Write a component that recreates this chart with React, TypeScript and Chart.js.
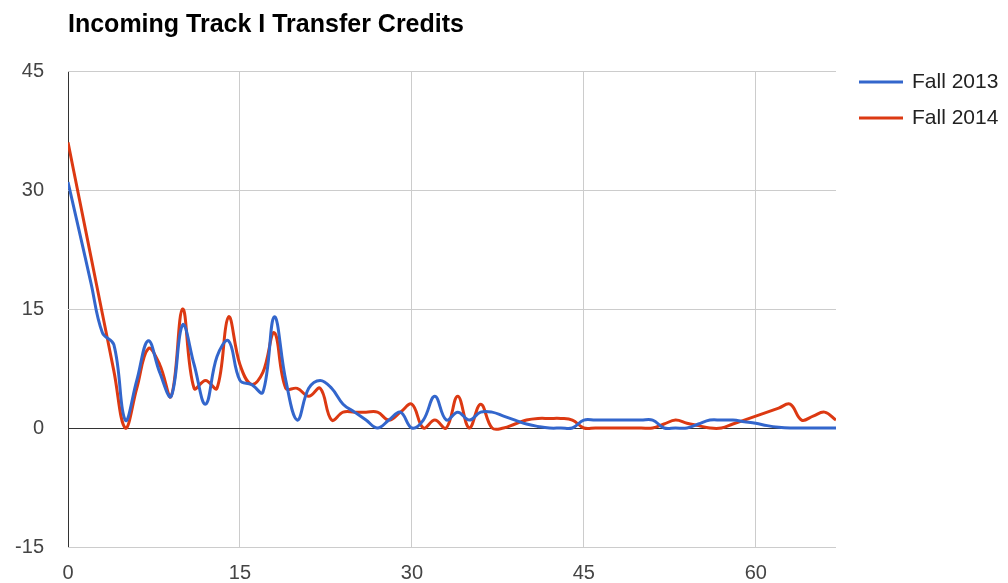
import React, { useEffect, useRef } from "react";
import { Chart, registerables } from "chart.js";

Chart.register(...registerables);

const chartTitle = "Incoming Track I Transfer Credits";
const seriesNames = ["Fall 2013", "Fall 2014"];
const seriesColors = ["#3366cc", "#dc3912"];

const credits = [
  0, 1, 2, 3, 4, 5, 6, 7, 8, 9, 10, 11, 12, 13, 14, 15, 16, 17, 18, 19, 20, 21, 22,
  23, 24, 25, 26, 27, 28, 29, 30, 31, 32, 33, 34, 35, 36, 37, 38, 39, 40, 41, 42, 43,
  44, 45, 46, 47, 48, 49, 50, 51, 52, 53, 54, 55, 56, 57, 58, 59, 60, 61, 62, 63, 64,
  65, 66, 67,
];

const fall2013 = [
  31, 24.7, 18.3, 12, 10.5, 1, 6, 11, 7, 4, 13, 8, 3, 9, 11, 6, 5.5, 4.5, 14, 6, 1, 5, 6,
  5, 3, 2, 1, 0, 1, 2, 0, 1, 4, 1, 2, 1, 2, 2, 1.5, 1, 0.5, 0.2, 0, 0,
  0, 1, 1, 1, 1, 1, 1, 1, 0, 0, 0, 0.5, 1, 1, 1, 0.8, 0.6, 0.3, 0.1, 0, 0,
  0, 0, 0,
];

const fall2014 = [
  36, 28.8, 21.6, 14.4, 7.2, 0, 5, 10, 8, 4, 15, 5, 6, 5, 14, 8, 5.5, 7, 12, 5, 5, 4, 5,
  1, 2, 2, 2, 2, 1, 2, 3, 0, 1, 0, 4, 0, 3, 0, 0, 0.5, 1, 1.2, 1.2, 1.2,
  1, 0, 0, 0, 0, 0, 0, 0, 0.5, 1, 0.6, 0.3, 0, 0, 0.5, 1, 1.5, 2, 2.5, 3, 1,
  1.5, 2, 1,
];

const xTickStep = 15;
const yTicks = [-15, 0, 15, 30, 45];

const FONT = "'Liberation Sans', Arial, sans-serif";

const decorPlugin = {
  id: "decor",
  afterDraw(chart: any) {
    const ctx = chart.ctx;
    ctx.save();
    ctx.fillStyle = "#000000";
    ctx.font = `bold 25px ${FONT}`;
    ctx.textBaseline = "alphabetic";
    ctx.textAlign = "left";
    ctx.fillText(chartTitle, 68, 32);

    const rows = [82, 118];
    seriesNames.forEach((name, i) => {
      const y = rows[i];
      ctx.strokeStyle = seriesColors[i];
      ctx.lineWidth = 3;
      ctx.beginPath();
      ctx.moveTo(859, y);
      ctx.lineTo(903, y);
      ctx.stroke();
      ctx.fillStyle = "#222222";
      ctx.font = `21px ${FONT}`;
      ctx.fillText(name, 912, y + 6);
    });
    ctx.restore();
  },
};

export default function App() {
  const ref = useRef<HTMLCanvasElement | null>(null);

  useEffect(() => {
    if (!ref.current) return;
    const mk = (vals: number[]) => credits.map((x, i) => ({ x, y: vals[i] }));
    const chart = new Chart(ref.current, {
      type: "line",
      data: {
        datasets: [
          {
            label: seriesNames[0],
            data: mk(fall2013),
            borderColor: seriesColors[0],
            backgroundColor: seriesColors[0],
            borderWidth: 3,
            pointRadius: 0,
            tension: 0.4,
            fill: false,
          },
          {
            label: seriesNames[1],
            data: mk(fall2014),
            borderColor: seriesColors[1],
            backgroundColor: seriesColors[1],
            borderWidth: 3,
            pointRadius: 0,
            tension: 0.4,
            fill: false,
          },
        ],
      },
      options: {
        animation: false,
        responsive: true,
        maintainAspectRatio: false,
        layout: { padding: { top: 71, right: 172, left: 0, bottom: 0 } },
        plugins: {
          legend: { display: false },
          title: { display: false },
          tooltip: { enabled: false },
        },
        scales: {
          x: {
            type: "linear",
            min: credits[0],
            max: credits[credits.length - 1],
            afterFit: (s: any) => {
              s.height = 36;
            },
            ticks: {
              stepSize: xTickStep,
              includeBounds: false,
              padding: 14,
              color: "#444444",
              font: { family: FONT, size: 20 },
            },
            grid: {
              drawTicks: false,
              color: (c: any) => (c.tick && c.tick.value === 0 ? "#333333" : "#cccccc"),
            },
            border: { display: false },
          },
          y: {
            min: yTicks[0],
            max: yTicks[yTicks.length - 1],
            afterFit: (s: any) => {
              s.width = 68;
            },
            afterBuildTicks: (s: any) => {
              s.ticks = yTicks.map((v) => ({ value: v }));
            },
            ticks: {
              padding: 24,
              color: "#444444",
              font: { family: FONT, size: 20 },
            },
            grid: {
              drawTicks: false,
              color: (c: any) => (c.tick && c.tick.value === 0 ? "#333333" : "#cccccc"),
            },
            border: { display: false },
          },
        },
      },
      plugins: [decorPlugin],
    });
    return () => chart.destroy();
  }, []);

  return (
    <div style={{ position: "absolute", left: 0, top: 0, width: 1008, height: 583, background: "#fff" }}>
      <canvas ref={ref} />
    </div>
  );
}
